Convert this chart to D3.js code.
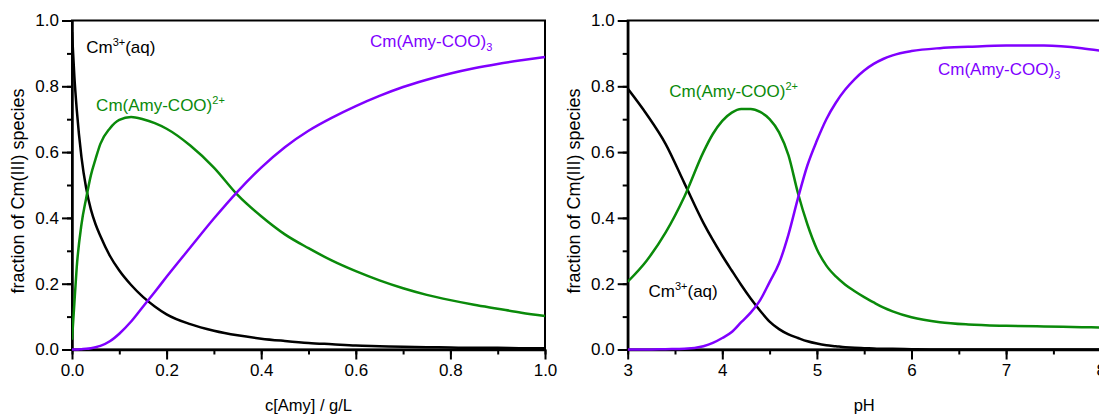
<!DOCTYPE html>
<html>
<head>
<meta charset="utf-8">
<script src="https://cdn.jsdelivr.net/npm/d3@7"></script>
<style>
  body { margin: 0; background: #fff; }
  text { font-family: "Liberation Sans", Arial, sans-serif; }
</style>
</head>
<body>
<div id="chart"></div>
<script>
// left panel: fraction vs amylose concentration
var amyConc = [0, 0.005, 0.01, 0.02, 0.03, 0.04, 0.05, 0.06, 0.08, 0.10, 0.125, 0.15, 0.175, 0.2, 0.25, 0.3, 0.35, 0.4, 0.45, 0.5, 0.55, 0.6, 0.65, 0.7, 0.75, 0.8, 0.85, 0.9, 0.95, 1.0];
var amyFree = [0.965, 0.83, 0.73, 0.585, 0.49, 0.425, 0.38, 0.345, 0.285, 0.24, 0.196, 0.16, 0.131, 0.107, 0.077, 0.057, 0.043, 0.033, 0.026, 0.02, 0.016, 0.012, 0.01, 0.008, 0.007, 0.006, 0.005, 0.005, 0.004, 0.004];
var amyMono = [0.03, 0.14, 0.25, 0.38, 0.46, 0.53, 0.58, 0.625, 0.672, 0.698, 0.707, 0.70, 0.688, 0.671, 0.62, 0.553, 0.47, 0.405, 0.35, 0.308, 0.27, 0.238, 0.21, 0.186, 0.166, 0.15, 0.136, 0.124, 0.112, 0.102];
var amyTris = [0, 0, 0, 0.001, 0.002, 0.004, 0.007, 0.011, 0.025, 0.048, 0.085, 0.13, 0.175, 0.221, 0.31, 0.398, 0.48, 0.553, 0.615, 0.665, 0.705, 0.74, 0.771, 0.798, 0.82, 0.839, 0.855, 0.868, 0.879, 0.889];

// right panel: fraction vs pH
var phVals = [3, 3.2, 3.4, 3.6, 3.8, 3.9, 4.0, 4.1, 4.2, 4.3, 4.4, 4.5, 4.6, 4.7, 4.8, 4.9, 5.0, 5.1, 5.2, 5.3, 5.4, 5.5, 5.6, 5.7, 5.8, 6.0, 6.3, 6.6, 7.0, 7.4, 7.8, 8.0];
var phFree = [0.793, 0.715, 0.625, 0.505, 0.385, 0.333, 0.285, 0.24, 0.196, 0.155, 0.118, 0.085, 0.062, 0.046, 0.035, 0.025, 0.018, 0.013, 0.01, 0.007, 0.005, 0.004, 0.003, 0.002, 0.002, 0.001, 0, 0, 0, 0, 0, 0];
var phMono = [0.206, 0.27, 0.355, 0.465, 0.6, 0.655, 0.695, 0.72, 0.731, 0.731, 0.722, 0.70, 0.66, 0.59, 0.475, 0.38, 0.305, 0.255, 0.222, 0.197, 0.177, 0.159, 0.143, 0.128, 0.116, 0.098, 0.083, 0.076, 0.072, 0.07, 0.068, 0.067];
var phTris = [0, 0, 0.001, 0.002, 0.01, 0.02, 0.035, 0.053, 0.083, 0.112, 0.15, 0.205, 0.262, 0.35, 0.46, 0.56, 0.635, 0.70, 0.75, 0.79, 0.822, 0.848, 0.868, 0.883, 0.894, 0.907, 0.916, 0.92, 0.924, 0.924, 0.916, 0.908];

var yTicks = [0, 0.2, 0.4, 0.6, 0.8, 1.0];
var amyTicks = [0, 0.2, 0.4, 0.6, 0.8, 1.0];
var phTicks = [3, 4, 5, 6, 7, 8];

var colBlack = "#000000";
var colGreen = "#0a8a0a";
var colPurple = "#8000ff";

var svg = d3.select("#chart")
    .append("svg")
    .attr("width", 1099)
    .attr("height", 414);

var plotTop = 20.5, plotH = 329, plotW = 473;

function drawPanel(left, xDomain, xTicks, xMinorStep, xFmt, xTitle, xs, series, labels) {
    var x = d3.scaleLinear().domain(xDomain).range([left, left + plotW]);
    var y = d3.scaleLinear().domain([0, 1]).range([plotTop + plotH, plotTop]);

    var g = svg.append("g");

    // frame
    g.append("rect")
        .attr("x", left)
        .attr("y", plotTop)
        .attr("width", plotW)
        .attr("height", plotH)
        .attr("fill", "none")
        .attr("stroke", "#000")
        .attr("stroke-width", 2);

    // minor ticks
    var xMinor = d3.range(xDomain[0], xDomain[1] + 1e-9, xMinorStep);
    var yMinor = d3.range(0, 1.0001, 0.1);
    g.append("g")
        .attr("transform", "translate(0," + (plotTop + plotH) + ")")
        .call(d3.axisBottom(x).tickValues(xMinor).tickSize(5).tickSizeOuter(0).tickFormat(""))
        .call(function(a) { a.select(".domain").remove(); })
        .selectAll("line").attr("stroke-width", 2);
    g.append("g")
        .attr("transform", "translate(" + left + ",0)")
        .call(d3.axisLeft(y).tickValues(yMinor).tickSize(5).tickSizeOuter(0).tickFormat(""))
        .call(function(a) { a.select(".domain").remove(); })
        .selectAll("line").attr("stroke-width", 2);

    // major axes
    var xa = g.append("g")
        .attr("transform", "translate(0," + (plotTop + plotH) + ")")
        .call(d3.axisBottom(x).tickValues(xTicks).tickSize(10).tickSizeOuter(0).tickPadding(4).tickFormat(d3.format(xFmt)));
    var ya = g.append("g")
        .attr("transform", "translate(" + left + ",0)")
        .call(d3.axisLeft(y).tickValues(yTicks).tickSize(10).tickSizeOuter(0).tickPadding(3).tickFormat(d3.format(".1f")));
    [xa, ya].forEach(function(a) {
        a.select(".domain").attr("stroke-width", 2.5);
        a.selectAll("line").attr("stroke-width", 2);
        a.selectAll("text").attr("font-size", "17px").attr("fill", "#000")
            .style("font-family", "'Liberation Sans', Arial, sans-serif");
    });

    // axis titles
    g.append("text")
        .attr("x", left + plotW / 2)
        .attr("y", 411)
        .attr("text-anchor", "middle")
        .attr("font-size", "16.5px")
        .text(xTitle);
    g.append("text")
        .attr("transform", "translate(" + (left - 48) + "," + 191 + ") rotate(-90)")
        .attr("text-anchor", "middle")
        .attr("font-size", "18px")
        .text("fraction of Cm(III) species");

    // curves
    var clipId = "clip" + Math.round(left);
    svg.append("clipPath").attr("id", clipId)
        .append("rect").attr("x", left).attr("y", plotTop - 3).attr("width", plotW + 3).attr("height", plotH + 6);
    series.forEach(function(s) {
        var line = d3.line()
            .x(function(d, i) { return x(xs[i]); })
            .y(function(d) { return y(d); })
            .curve(d3.curveMonotoneX);
        g.append("path")
            .datum(s.values)
            .attr("clip-path", "url(#" + clipId + ")")
            .attr("fill", "none")
            .attr("stroke", s.color)
            .attr("stroke-width", 2.5)
            .attr("d", line);
    });

    // species labels
    labels.forEach(function(l) {
        var t = g.append("text")
            .attr("x", x(l.at[0]))
            .attr("y", y(l.at[1]))
            .attr("font-size", "17px")
            .attr("fill", l.color);
        t.append("tspan").text(l.main);
        t.append("tspan").attr("font-size", "11px").attr("dy", l.sup ? -7 : 4).text(l.sup || l.sub);
        if (l.tail) t.append("tspan").attr("dy", 7).text(l.tail);
    });
}

drawPanel(72, [0, 1], amyTicks, 0.1, ".1f", "c[Amy] / g/L", amyConc,
    [{values: amyFree, color: colBlack}, {values: amyMono, color: colGreen}, {values: amyTris, color: colPurple}],
    [{at: [0.03, 0.9], main: "Cm", sup: "3+", tail: "(aq)", color: colBlack},
     {at: [0.051, 0.726], main: "Cm(Amy-COO)", sup: "2+", color: colGreen},
     {at: [0.63, 0.918], main: "Cm(Amy-COO)", sub: "3", color: colPurple}]);

drawPanel(627.7, [3, 8], phTicks, 0.5, "d", "pH", phVals,
    [{values: phFree, color: colBlack}, {values: phMono, color: colGreen}, {values: phTris, color: colPurple}],
    [{at: [3.22, 0.159], main: "Cm", sup: "3+", tail: "(aq)", color: colBlack},
     {at: [3.44, 0.767], main: "Cm(Amy-COO)", sup: "2+", color: colGreen},
     {at: [6.28, 0.833], main: "Cm(Amy-COO)", sub: "3", color: colPurple}]);
</script>
</body>
</html>
